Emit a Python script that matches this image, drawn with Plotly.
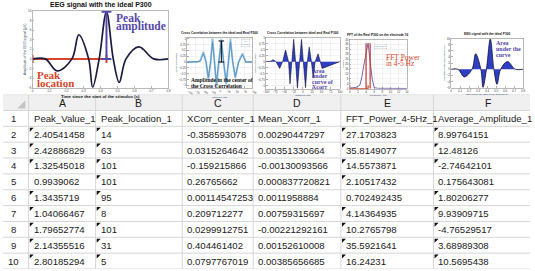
import plotly.graph_objects as go

W, H = 535, 271

# ---------------- table data ----------------
col_letters = ["A", "B", "C", "D", "E", "F"]
col_names = ["Peak_Value_1", "Peak_location_1", "XCorr_center_1", "Mean_Xcorr_1",
             "FFT_Power_4-5Hz_1", "Average_Amplitude_1"]
peak_value = [2.40541458, 2.42886829, 1.32545018, 0.9939062, 1.3435719,
              1.04066467, 1.79652774, 2.14355516, 2.80185294]
peak_location = [14, 63, 101, 101, 95, 8, 101, 31, 5]
xcorr_center = [-0.358593078, 0.0315264642, -0.159215866, 0.26765662, 0.00114547253,
                0.209712277, 0.0299912751, 0.404461402, 0.0797767019]
mean_xcorr = [0.00290447297, 0.00351330664, -0.00130093566, 0.000837720821, 0.0011958884,
              0.00759315697, -0.00221292161, 0.00152610008, 0.00385656685]
fft_power = [27.1703823, 35.8149077, 14.5573871, 2.10517432, 0.702492435,
             4.14364935, 10.2765798, 35.5921641, 16.24231]
avg_amplitude = [8.99764151, 12.48126, -2.74642101, 0.175643081, 1.80206277,
                 9.93909715, -4.76529517, 3.68989308, 10.5695438]
row_numbers = list(range(1, 11))
# cells flagged with the spreadsheet's corner marker (rows 2..10)
flag_A = [1, 1, 1, 0, 1, 1, 1, 1, 1]
flag_B = [1, 1, 1, 1, 1, 1, 1, 1, 1]
flag_C = [0] * 9
flag_D = [0] * 9
flag_E = [1, 1, 1, 1, 0, 1, 1, 1, 1]
flag_F = [1, 1, 1, 0, 1, 1, 1, 1, 1]

# ---------------- mini chart data ----------------
eeg_t = [0, 0.075, 0.145, 0.232, 0.272, 0.33, 0.354, 0.392, 0.435, 0.475, 0.51, 0.55, 0.626, 0.713, 0.8]
eeg_v = [0, 0, -2.5, 0, 5.0, 0, -5.9, 0, 9.8, 0, -4.9, 0, 2.5, 0, 0]
peak_t, peak_v = 0.435, 9.8

xc_lag = [-100, -70, -60, -50, -42, -35, -28, -22, -16, -10, -3, 5, 12, 20, 27, 33, 40, 48, 58, 70, 80, 100]
xc_a = [0, 0, 0.05, 0.44, 0, -0.76, 0, 1.0, 0, -1.05, 0, 0.97, 0, -0.96, 0, 1.0, 0, -0.7, 0, 0.37, 0, 0]
xc_b = [0, 0, 0.03, 0.35, 0, -0.65, 0, 0.85, 0, -0.9, 0, 0.85, 0, -0.82, 0, 0.85, 0, -0.6, 0, 0.3, 0, 0]
xc_center_lag, xc_center_val = 5, 0.9

xr_lag = [-100, -87, -81, -73, -63, -55, -47, -39, -35, -31, -25, -20, -15, -9, -4, 1,
          7, 12, 17, 23, 28, 33, 41, 47, 52, 100]
xr_val = [0, 0.02, 0.08, 0, -0.28, 0, 0.48, 0, -0.92, 0, 0.92, 0, -1.1, 0, 0.92, 0,
          -1.08, 0, 0.6, 0, -0.68, 0, 0.32, 0, -0.28, 0]

fft_f = [0, 1, 1.5, 2.5, 3, 3.5, 4, 4.5, 5, 5.5, 6, 7, 14]
fft_p = [0.5, 0.5, 1, 3, 10, 20, 30, 37, 22, 8, 0.8, 0.3, 0.2]
band_lo, band_hi = 4, 5

RED = "#d9452b"
PURPLE = "#5547a8"
NAVY = "#1c1c40"
FILLBLUE = "#2f3fc4"
GRID = "#d6d6d6"

# table geometry (style)
col_widths = [26, 68, 88, 72, 89, 94, 110]
TABLE_TOP = 94
PAD = 3


def dom_x(a, b):
    return [a / W, b / W]


def dom_y(top, bottom):
    return [1 - bottom / H, 1 - top / H]


fig = go.Figure()

# chart 1
fig.add_trace(go.Scatter(x=[0, peak_t], y=[0, 0], mode="lines+markers",
                         line=dict(color=RED, width=2),
                         marker=dict(symbol="line-ns", size=6, line=dict(color=RED, width=2)),
                         xaxis="x", yaxis="y"))
fig.add_trace(go.Scatter(x=eeg_t, y=eeg_v, mode="lines", line=dict(color=NAVY, width=1.7, shape="spline"),
                         xaxis="x", yaxis="y"))
fig.add_trace(go.Scatter(x=[peak_t, peak_t], y=[0, peak_v], mode="lines+markers",
                         line=dict(color=PURPLE, width=2),
                         marker=dict(symbol="line-ew", size=7, line=dict(color=PURPLE, width=2)),
                         xaxis="x", yaxis="y"))

# chart 2
fig.add_trace(go.Scatter(x=xc_lag, y=xc_a, mode="lines", line=dict(color="#8fbfe0", width=1.8),
                         xaxis="x2", yaxis="y2"))
fig.add_trace(go.Scatter(x=xc_lag, y=xc_b, mode="lines", line=dict(color="#4a86b8", width=0.7),
                         xaxis="x2", yaxis="y2"))
fig.add_trace(go.Scatter(x=[xc_center_lag, xc_center_lag], y=[0, xc_center_val], mode="lines+markers",
                         line=dict(color="black", width=1),
                         marker=dict(symbol="line-ew", size=4, line=dict(color="black", width=1)),
                         xaxis="x2", yaxis="y2"))

# chart 3
fig.add_trace(go.Scatter(x=xr_lag, y=xr_val, mode="lines", fill="tozeroy", fillcolor=FILLBLUE,
                         line=dict(color="#101030", width=0.6), xaxis="x3", yaxis="y3"))

# chart 4
fig.add_trace(go.Scatter(x=fft_f, y=fft_p, mode="lines", line=dict(color="#7a5fb8", width=1),
                         xaxis="x4", yaxis="y4"))
fig.add_trace(go.Scatter(x=[band_lo, band_lo, None, band_hi, band_hi], y=[0, 37, None, 0, 37],
                         mode="lines", line=dict(color="#c0392b", width=1.2), xaxis="x4", yaxis="y4"))
fig.add_trace(go.Scatter(x=[0, 4.5], y=[0, 0], mode="lines+markers", line=dict(color=RED, width=1.2),
                         marker=dict(symbol="line-ns", size=5, line=dict(color=RED, width=1.2)),
                         xaxis="x4", yaxis="y4"))

# chart 5
fig.add_trace(go.Scatter(x=eeg_t, y=eeg_v, mode="lines", fill="tozeroy", fillcolor=FILLBLUE,
                         line=dict(color="#101030", width=0.8, shape="spline"), xaxis="x5", yaxis="y5"))

# ---------------- spreadsheet table (axis x6/y6: x in layout units, y in rows) ----------------
bounds = [0]
for w in col_widths:
    bounds.append(bounds[-1] + w)
n_rows = 1 + len(row_numbers)  # letter header + 10 rows

shapes = [dict(type="rect", xref="x6", yref="y6", x0=0, x1=bounds[-1], y0=0, y1=1,
               fillcolor="#f0f0f0", line=dict(width=0), layer="below")]
for r in range(n_rows + 1):
    shapes.append(dict(type="line", xref="x6", yref="y6", x0=0, x1=bounds[-1], y0=r, y1=r,
                       line=dict(color=GRID, width=1)))
for b in bounds[1:]:
    shapes.append(dict(type="line", xref="x6", yref="y6", x0=b, x1=b, y0=0, y1=n_rows,
                       line=dict(color=GRID, width=1)))

tfont = dict(family="Liberation Sans, Arial, sans-serif", size=9.6, color="#1a1a1a")
ann = []
for i, letter in enumerate(col_letters):
    ann.append(dict(text=letter, xref="x6", yref="y6", x=(bounds[i + 1] + bounds[i + 2]) / 2, y=0.5,
                    showarrow=False, xanchor="center", yanchor="middle",
                    font=dict(family=tfont["family"], size=10.5, color="#1a1a1a")))
for r in row_numbers:
    ann.append(dict(text=str(r), xref="x6", yref="y6", x=11, y=r + 0.5, showarrow=False,
                    xanchor="center", yanchor="middle", font=tfont))
columns = [peak_value, peak_location, xcorr_center, mean_xcorr, fft_power, avg_amplitude]
flags = [flag_A, flag_B, flag_C, flag_D, flag_E, flag_F]
fx, fy = [], []
for c, (name, vals, fl) in enumerate(zip(col_names, columns, flags)):
    left = bounds[c + 1]
    ann.append(dict(text=name, xref="x6", yref="y6", x=left + PAD, y=1.5, showarrow=False,
                    xanchor="left", yanchor="middle", font=tfont))
    for k, v in enumerate(vals):
        ann.append(dict(text=str(v), xref="x6", yref="y6", x=left + PAD, y=k + 2.5, showarrow=False,
                        xanchor="left", yanchor="middle", font=tfont))
        if fl[k]:
            fx.append(left + 2.5)
            fy.append(k + 2.17)

fig.add_trace(go.Scatter(x=fx, y=fy, mode="markers", marker=dict(symbol="triangle-nw", size=4.5, color="#111"),
                         xaxis="x6", yaxis="y6", cliponaxis=False))
fig.add_trace(go.Scatter(x=[20], y=[0.7], mode="markers", marker=dict(symbol="triangle-se", size=9, color="#c4c4c4"),
                         xaxis="x6", yaxis="y6", cliponaxis=False))

# ---------------- axes ----------------
tick_font = dict(size=3, color="#444")
axis_common = dict(showline=True, linecolor="#888", linewidth=0.6, mirror=True, ticks="inside",
                   ticklen=1.5, tickwidth=0.5, tickcolor="#666", tickfont=tick_font, zeroline=False,
                   fixedrange=True)
grid_on = dict(showgrid=True, gridcolor="#e6e6e6", gridwidth=0.5)
small_title = dict(size=2.5)

layout_axes = {
    "xaxis": dict(domain=dom_x(30, 168), range=[0, 0.8], anchor="y", dtick=0.1, showgrid=False, **axis_common),
    "yaxis": dict(domain=dom_y(9, 87), range=[-6, 10], anchor="x", dtick=2, showgrid=False,
                  title=dict(text="Amplitude of the EEG signal (µV)", font=dict(size=3.5), standoff=1),
                  **axis_common),
    "xaxis2": dict(domain=dom_x(187, 253), range=[-100, 100], anchor="y2", dtick=25, **grid_on,
                   title=dict(text="Samples (lag)", font=small_title, standoff=0), **axis_common),
    "yaxis2": dict(domain=dom_y(36, 87), range=[-1.1, 1.05], anchor="x2", dtick=0.25, **grid_on,
                   title=dict(text="Cross Correlation", font=small_title, standoff=1), **axis_common),
    "xaxis3": dict(domain=dom_x(267, 342), range=[-100, 100], anchor="y3", dtick=25, **grid_on,
                   title=dict(text="Samples (lag)", font=small_title, standoff=0), **axis_common),
    "yaxis3": dict(domain=dom_y(36, 88), range=[-1.12, 1.0], anchor="x3", dtick=0.25, **grid_on,
                   title=dict(text="Cross Correlation", font=small_title, standoff=1), **axis_common),
    "xaxis4": dict(domain=dom_x(352, 410), range=[0, 14], anchor="y4", dtick=2, **grid_on,
                   title=dict(text="Frequency (Hz)", font=small_title, standoff=0), **axis_common),
    "yaxis4": dict(domain=dom_y(38, 88), range=[0, 40], anchor="x4", dtick=4, **grid_on,
                   title=dict(text="Power", font=small_title, standoff=1), **axis_common),
    "xaxis5": dict(domain=dom_x(455, 528), range=[0, 0.8], anchor="y5", dtick=0.1, showgrid=False,
                   title=dict(text="Time since the start of the stimulus (s)", font=small_title, standoff=0),
                   **axis_common),
    "yaxis5": dict(domain=dom_y(37, 87), range=[-6, 10], anchor="x5", dtick=2, showgrid=False,
                   title=dict(text="Amplitude of the EEG signal (µV)", font=small_title, standoff=1),
                   **axis_common),
    "xaxis6": dict(domain=[0, 1], range=[0, W], anchor="y6", visible=False, fixedrange=True),
    "yaxis6": dict(domain=[0, 1 - TABLE_TOP / H], range=[n_rows, 0], anchor="x6", visible=False,
                   fixedrange=True),
}

serif = "Liberation Serif, Times New Roman, serif"


def label(text, axis, x, y, size, color, anchor="left", yanchor="middle"):
    return dict(text=text, xref=f"x{axis} domain", yref=f"y{axis} domain", x=x, y=y,
                xanchor=anchor, yanchor=yanchor, showarrow=False, font=dict(family=serif, size=size, color=color))


ann += [
    dict(text="<b>EEG signal with the ideal P300</b>", xref="x domain", yref="y domain", x=0.5, y=1.0,
         yanchor="bottom", showarrow=False, font=dict(size=7, color="#111")),
    dict(text="<b>Time since the start of the stimulus (s)</b>", xref="x domain", yref="y domain", x=0.5, y=-0.05,
         yanchor="top", showarrow=False, font=dict(size=4.3, color="#111")),
    dict(text="<b>Cross Correlation between the ideal and Real P300</b>", xref="x2 domain", yref="y2 domain",
         x=0.5, y=1.0, yanchor="bottom", showarrow=False, font=dict(size=3.2, color="#111")),
    dict(text="<b>Cross Correlation between ideal and Real P300</b>", xref="x3 domain", yref="y3 domain",
         x=0.5, y=1.0, yanchor="bottom", showarrow=False, font=dict(size=3.2, color="#111")),
    dict(text="<b>FFT of the Real P300 on the electrode 16</b>", xref="x4 domain", yref="y4 domain",
         x=0.5, y=1.0, yanchor="bottom", showarrow=False, font=dict(size=3.2, color="#111")),
    dict(text="<b>EEG signal with the ideal P300</b>", xref="x5 domain", yref="y5 domain",
         x=0.5, y=1.0, yanchor="bottom", showarrow=False, font=dict(size=3.2, color="#111")),
    label("<b>Peak</b>", "", 0.6, 0.91, 11.5, PURPLE),
    label("<b>amplitude</b>", "", 0.6, 0.795, 11.5, PURPLE),
    label("<b>Peak</b>", "", 0.02, 0.17, 11, RED),
    label("<b>location</b>", "", 0.02, 0.06, 11, RED),
    label("<b>Amplitude in the center of</b>", "2", 0.03, 0.16, 5.5, "#111"),
    label("<b>the Cross Correlation</b>", "2", 0.03, 0.04, 5.5, "#111"),
    label("<b>Area</b>", "3", 0.6, 0.35, 6, PURPLE),
    label("<b>under</b>", "3", 0.6, 0.24, 6, PURPLE),
    label("<b>curve of</b>", "3", 0.6, 0.135, 6, PURPLE),
    label("<b>Xcorr</b>", "3", 0.6, 0.025, 6, PURPLE),
    label("FFT Power", "4", 0.6, 0.64, 7.5, RED),
    label("in 4-5 Hz", "4", 0.6, 0.51, 7.5, RED),
    label("<b>Area</b>", "5", 0.59, 0.9, 6, PURPLE),
    label("<b>under the</b>", "5", 0.59, 0.78, 6, PURPLE),
    label("<b>curve</b>", "5", 0.59, 0.67, 6, PURPLE),
    dict(text="real P300", xref="x4 domain", yref="y4 domain", x=0.42, y=0.9, xanchor="left", yanchor="top",
         showarrow=False, bordercolor="#bbb", borderwidth=0.4, borderpad=0.5, bgcolor="white",
         font=dict(size=2.5, color="#4a86b8")),
    dict(text="xc<br>center", xref="x2 domain", yref="y2 domain", x=0.82, y=0.97, xanchor="left", yanchor="top",
         showarrow=False, bordercolor="#bbb", borderwidth=0.4, borderpad=0.5, bgcolor="white",
         font=dict(size=2.5, color="#4a86b8")),
]

fig.update_layout(
    width=W, height=H, margin=dict(l=0, r=0, t=0, b=0),
    paper_bgcolor="white", plot_bgcolor="white",
    font=dict(family="Liberation Sans, Arial, sans-serif"),
    annotations=ann, shapes=shapes, showlegend=False,
    **layout_axes,
)

fig.write_html("out.html", config={"displayModeBar": False, "staticPlot": True},
               post_script="document.body.style.margin='0';document.body.style.overflow='hidden';")
